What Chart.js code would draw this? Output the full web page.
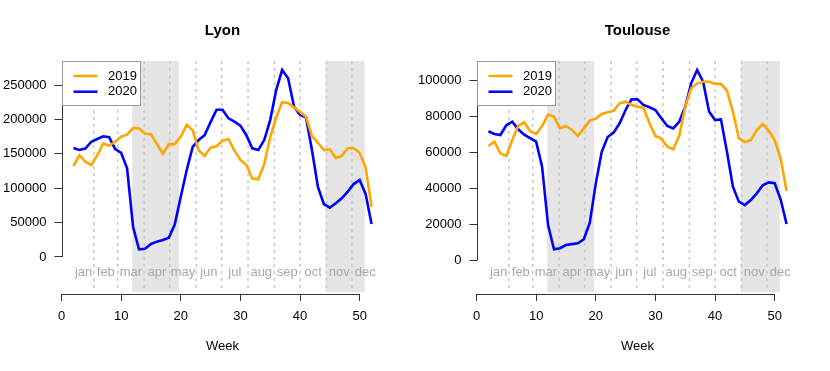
<!DOCTYPE html>
<html><head><meta charset="utf-8">
<script src="https://cdn.jsdelivr.net/npm/chart.js@4/dist/chart.umd.min.js"></script>
<style>
body{margin:0;background:#fff;}
.p{position:absolute;top:0;width:415px;height:371px;}
</style>
</head><body>
<div class="p" style="left:0"><canvas id="c1" width="415" height="371"></canvas></div>
<div class="p" style="left:415px"><canvas id="c2" width="415" height="371"></canvas></div>
<script>
const weeks = [2,3,4,5,6,7,8,9,10,11,12,13,14,15,16,17,18,19,20,21,22,23,24,25,26,27,28,29,30,31,32,33,34,35,36,37,38,39,40,41,42,43,44,45,46,47,48,49,50,51,52];

const lyon2019 = [132000,148000,138500,133700,148000,165000,162000,167500,175000,178000,187500,187000,179000,178500,164000,150000,164000,164000,175000,192000,184000,155000,147000,159000,161000,169000,171500,154500,141000,134000,114000,113000,135000,174000,203000,225000,224000,217500,211000,204000,176000,166000,155500,156500,144000,147000,158000,158000,151500,130000,73000];
const lyon2020 = [158500,155500,157500,167500,171500,175500,174000,157000,151500,129000,44000,11000,12000,19000,22300,24700,28000,47500,87600,126500,160000,170000,177000,196000,214000,214000,201500,196700,191000,177000,158000,155500,170000,199000,242700,271800,259700,218500,206400,203000,155500,102000,77000,71700,78000,85300,95000,106000,112000,91600,48000];

const toulouse2019 = [63500,65900,59400,57900,66800,74600,76700,71700,70200,74600,80900,79800,73300,74600,72400,69100,73300,77600,78700,81300,82200,83000,87200,88100,86300,85300,84800,76100,69100,67600,63100,61700,69100,85300,95600,98300,99200,99200,98000,98000,94200,82600,67800,65700,66800,72400,75700,72000,66800,56700,38500];
const toulouse2020 = [71700,70200,69600,75000,77000,72800,69800,67900,65900,52000,19600,6100,6700,8500,9000,9500,11700,20900,42600,60300,68500,70900,76100,83500,89400,89400,86300,85000,83500,78900,74600,73300,77000,85300,98300,105700,99200,82600,77900,78300,60300,40900,32600,30700,33500,37200,41700,43300,42800,33900,20200];

const seriesLabels = ['2019','2020'];
const monthLabels = ['jan','feb','mar','apr','may','jun','jul','aug','sep','oct','nov','dec'];
const monthPos = [3.71,7.43,11.64,16.0,20.36,24.71,29.07,33.5,37.86,42.21,46.57,50.93];
const monthStarts = [5.43,9.43,13.86,18.14,22.57,26.86,31.29,35.71,40,44.43,48.71];
const lockdowns = [[11.86,19.71],[44.29,50.86]];
const xTicks = [0,10,20,30,40,50];
const lyonTicks = [0,50000,100000,150000,200000,250000];
const toulouseTicks = [0,20000,40000,60000,80000,100000];

const FONT = "'Liberation Sans', Arial, sans-serif";

const decor = {
  id:'decor',
  beforeDatasetsDraw(chart){
    const {ctx, chartArea:a, scales:{x}} = chart;
    ctx.save();
    ctx.fillStyle = '#e5e5e5';
    lockdowns.forEach(([s,e])=>{
      const x0 = x.getPixelForValue(s), x1 = x.getPixelForValue(e);
      ctx.fillRect(x0, a.top, x1-x0, a.bottom-2-a.top);
    });
    ctx.strokeStyle = '#c8c8c8';
    ctx.lineWidth = 1.5;
    ctx.setLineDash([3,4]);
    monthStarts.forEach(m=>{
      const px = x.getPixelForValue(m);
      ctx.beginPath(); ctx.moveTo(px, a.top); ctx.lineTo(px, a.bottom-2); ctx.stroke();
    });
    ctx.setLineDash([]);
    ctx.fillStyle = '#a9a9a9';
    ctx.font = '13px ' + FONT;
    ctx.textAlign = 'center';
    ctx.textBaseline = 'middle';
    monthLabels.forEach((m,i)=>{
      ctx.fillText(m, x.getPixelForValue(monthPos[i]), 272);
    });
    ctx.restore();
  },
  afterDraw(chart){
    const {ctx, chartArea:a, scales:{x,y}} = chart;
    const yt = chart.options.plugins.decor.ticks;
    ctx.save();
    ctx.strokeStyle = '#333';
    ctx.lineWidth = 1;
    ctx.beginPath();
    const lx = Math.round(a.left)+0.5;
    ctx.moveTo(lx, y.getPixelForValue(yt[0]));
    ctx.lineTo(lx, y.getPixelForValue(yt[yt.length-1]));
    const by = Math.round(a.bottom)+0.5;
    ctx.moveTo(x.getPixelForValue(xTicks[0]), by);
    ctx.lineTo(x.getPixelForValue(xTicks[xTicks.length-1]), by);
    ctx.stroke();
    // legend
    const L = Math.round(a.left)+0.5, T = Math.round(a.top)+0.5;
    ctx.fillStyle = '#fff';
    ctx.fillRect(L, T, 78, 44);
    ctx.strokeStyle = '#999';
    ctx.strokeRect(L, T, 78, 44);
    ctx.font = '13px ' + FONT;
    ctx.textAlign = 'left';
    ctx.textBaseline = 'middle';
    chart.data.datasets.forEach((ds,i)=>{
      const yy = T + 14.5 + i*15.7;
      ctx.strokeStyle = ds.borderColor;
      ctx.lineWidth = 2.5;
      ctx.beginPath(); ctx.moveTo(L+11, yy); ctx.lineTo(L+35, yy); ctx.stroke();
      ctx.fillStyle = '#000';
      ctx.fillText(ds.label, L+45.5, yy);
    });
    // title
    ctx.font = 'bold 15px ' + FONT;
    ctx.textAlign = 'center';
    ctx.fillStyle = '#000';
    ctx.fillText(chart.options.plugins.decor.title, (a.left+a.right)/2, 30.5);
    ctx.restore();
  }
};

function makeChart(id, title, s2019, s2020, yMin, yMax, yTicks){
  const pts = arr => weeks.map((w,i)=>({x:w, y:arr[i]}));
  return new Chart(document.getElementById(id), {
    type:'line',
    data:{datasets:[
      {label:seriesLabels[0], data:pts(s2019), borderColor:'#FFA500', borderWidth:2.6, pointRadius:0, tension:0, fill:false},
      {label:seriesLabels[1], data:pts(s2020), borderColor:'#0000FF', borderWidth:2.6, pointRadius:0, tension:0, fill:false}
    ]},
    options:{
      responsive:false, animation:false, devicePixelRatio:1,
      layout:{padding:{left:0,right:31.5,top:61,bottom:0}},
      plugins:{legend:{display:false}, tooltip:{enabled:false}, title:{display:false},
        decor:{title:title, ticks:yTicks}},
      scales:{
        x:{type:'linear', min:0, max:54,
          afterBuildTicks(s){ s.ticks = xTicks.map(v=>({value:v})); },
          afterFit(s){ s.height = 77; },
          grid:{drawOnChartArea:false, drawTicks:true, tickLength:7, color:'#333'},
          border:{display:false},
          ticks:{font:{family:FONT,size:13}, color:'#000', padding:8, maxRotation:0, autoSkip:false},
          title:{display:true, text:'Week', font:{family:FONT,size:13}, color:'#000', padding:{top:0,bottom:17}}
        },
        y:{type:'linear', min:yMin, max:yMax,
          afterBuildTicks(s){ s.ticks = yTicks.map(v=>({value:v})); },
          afterFit(s){ s.width = 61.5; },
          grid:{drawOnChartArea:false, drawTicks:true, tickLength:7, color:'#333'},
          border:{display:false},
          ticks:{font:{family:FONT,size:13}, color:'#000', padding:8, autoSkip:false, callback:v=>String(v)}
        }
      }
    },
    plugins:[decor]
  });
}

makeChart('c1','Lyon', lyon2019, lyon2020, -53800, 284900, lyonTicks);
makeChart('c2','Toulouse', toulouse2019, toulouse2020, -18700, 110700, toulouseTicks);
</script>
</body></html>
